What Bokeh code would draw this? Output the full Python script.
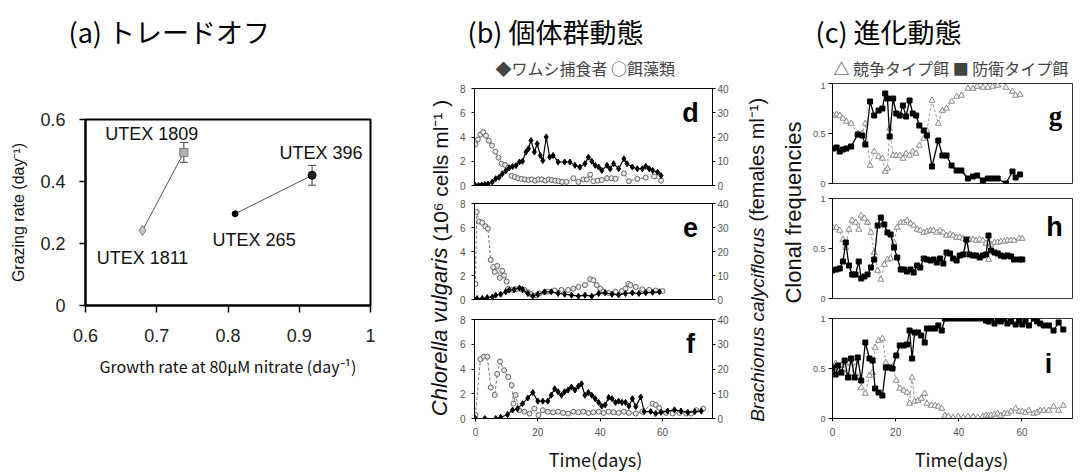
import math
from bokeh.plotting import figure
from bokeh.models import Range1d, LinearAxis, FixedTicker, NumeralTickFormatter, Title
from bokeh.layouts import row, column
from bokeh.embed import file_html
from bokeh.resources import INLINE
from bokeh.core.properties import value

# ---------------- data: (a) trade-off ----------------
strains = ["UTEX 1811", "UTEX 1809", "UTEX 265", "UTEX 396"]
growth_rate = [0.68, 0.738, 0.81, 0.918]
grazing_rate = [0.242, 0.494, 0.296, 0.42]
grazing_err = [0.0, 0.032, 0.0, 0.032]
a_xticks = [0.6, 0.7, 0.8, 0.9, 1.0]
a_yticks = [0.0, 0.2, 0.4, 0.6]

# ---------------- data: (b) population dynamics ----------------
d_alg_t = [0, 0.8, 1.6, 2.5, 3.4, 4.3, 5.3, 6.4, 7.4, 8.4, 9.5, 10.6, 11.6, 12.6, 13.7, 14.8, 15.9, 17.0,
           18.1, 19.1, 20.2, 21.3, 22.4, 23.5, 24.5, 25.6, 26.7, 27.8, 29.2, 31.4, 33.0, 34.6, 35.7, 36.8,
           37.8, 39.2, 40.5, 42.2, 43.6, 44.9, 47.6, 49.2, 51.9, 54.6, 57.3, 59.5]
d_alg = [3.4, 3.8, 4.2, 4.4, 4.1, 3.7, 3.3, 2.8, 2.3, 1.8, 1.7, 1.5, 0.8, 0.7, 0.6, 0.55, 0.5, 0.45,
         0.5, 0.4, 0.5, 0.5, 0.4, 0.5, 0.45, 0.4, 0.35, 0.3, 0.3, 0.6, 0.3, 0.5, 0.5, 0.9,
         0.35, 0.4, 0.45, 0.6, 0.6, 0.55, 1.0, 0.35, 0.55, 0.65, 0.75, 0.4]
d_rot_t = [0, 1, 2, 3, 4, 5.4, 6.5, 7.6, 8.6, 9.7, 10.8, 11.9, 13.0, 14.1, 15.1, 16.2, 17.0, 17.8, 18.9,
           19.8, 20.8, 21.6, 22.7, 23.8, 24.9, 26.5, 28.6, 30.3, 31.9, 33.5, 35.1, 36.2, 37.3, 38.4,
           39.5, 40.5, 42.2, 43.2, 44.3, 45.9, 47.6, 48.6, 50.3, 51.9, 53.5, 54.6, 55.7, 56.8, 58.4, 59.5]
d_rot = [0, 0, 0.2, 0.4, 0.6, 1.4, 2.8, 3.4, 4.8, 6.0, 7.2, 7.8, 8.2, 9.7, 10.0, 13.8, 15.2, 18.6, 13.8,
         17.2, 12.4, 10.3, 20.0, 11.7, 12.4, 9.7, 9.7, 9.7, 8.3, 7.6, 9.0, 11.7, 10.0, 8.3,
         7.6, 6.2, 8.3, 6.9, 9.0, 6.9, 11.0, 9.0, 7.6, 6.9, 6.9, 7.9, 6.9, 6.2, 5.5, 4.1]

e_alg_t = [0, 0.4, 1.2, 2.2, 3.2, 4.0, 4.9, 5.7, 6.2, 7.0, 7.8, 8.6, 9.2, 10.0, 10.5, 11.9, 13.0, 14.6,
           15.7, 16.8, 17.8, 19.5, 20.5, 22.2, 23.2, 25.4, 27.6, 29.7, 31.4, 33.0, 35.1, 36.8, 37.8,
           38.9, 40.0, 41.1, 42.7, 44.9, 47.0, 48.1, 49.0, 49.7, 51.4, 53.5, 55.7, 57.8, 60.0]
e_alg = [1.3, 7.3, 6.5, 6.4, 6.1, 5.9, 3.3, 2.7, 2.3, 2.8, 1.8, 2.4, 2.0, 1.5, 0.9, 0.8, 0.85, 0.85,
         0.8, 0.6, 0.45, 0.35, 0.5, 0.6, 0.65, 0.75, 0.8, 0.8, 0.9, 1.05, 1.2, 1.7, 1.6,
         1.2, 0.9, 0.65, 0.55, 0.65, 0.7, 0.9, 1.3, 1.2, 1.05, 0.85, 0.8, 0.75, 0.7]
e_rot_t = [0.5, 2.2, 3.8, 5.4, 6.5, 8.1, 9.7, 10.8, 12.4, 14.1, 15.1, 16.8, 18.4, 20.0, 22.2, 24.3, 26.5,
           28.6, 30.8, 33.0, 35.1, 37.3, 39.5, 41.6, 43.8, 45.9, 48.1, 50.3, 52.4, 54.6, 56.8, 59.0]
e_rot = [0.4, 0.4, 0.8, 1.0, 1.8, 2.2, 3.2, 3.9, 4.1, 4.8, 4.2, 2.5, 1.4, 2.2, 3.2, 3.2, 2.5,
         2.2, 1.8, 1.4, 1.8, 1.4, 2.5, 2.8, 2.2, 1.9, 2.5, 2.8, 2.5, 2.8, 3.0, 3.2]

f_alg_t = [0, 1.6, 2.7, 3.8, 4.9, 6.2, 7.0, 7.9, 9.2, 10.5, 11.6, 12.2, 12.9, 14.0, 15.7, 17.3, 18.9, 20.2,
           21.6, 23.2, 24.9, 26.5, 28.1, 29.7, 31.4, 33.0, 34.6, 36.2, 37.8, 39.5, 41.1, 42.7, 44.3,
           45.9, 47.6, 49.2, 51.4, 53.5, 56.8, 57.8, 58.9, 61.1, 63.2, 65.4, 67.6, 69.2, 70.8, 73.0]
f_alg = [0.27, 4.8, 5.0, 5.0, 2.5, 1.9, 3.6, 4.6, 3.9, 3.35, 2.7, 1.2, 1.9, 0.67, 0.55, 0.4, 0.8, 0.27,
         0.67, 0.55, 0.5, 0.55, 0.45, 0.4, 0.55, 0.5, 0.55, 0.45, 0.5, 0.55, 0.45, 0.55, 0.5,
         0.45, 0.55, 0.45, 0.4, 0.55, 1.2, 1.1, 0.85, 0.45, 0.4, 0.45, 0.4, 0.4, 0.67, 0.8]
f_rot_t = [0, 3.0, 6.5, 8.1, 10.3, 11.9, 13.5, 15.1, 16.8, 18.4, 20.0, 21.6, 23.2, 24.3, 25.4, 26.5, 27.6,
           28.6, 29.7, 30.8, 31.9, 33.0, 34.0, 35.1, 36.2, 37.3, 38.4, 39.5, 40.5, 41.6, 42.7, 43.8,
           44.9, 45.9, 47.0, 48.1, 49.2, 50.3, 51.4, 53.0, 54.1, 56.2, 57.8, 59.5, 61.6, 63.8, 65.9,
           68.1, 70.3, 72.4]
f_rot = [0, 0, 0, 0.5, 1.6, 3.4, 4.0, 6.0, 8.3, 10.5, 7.0, 7.0, 7.0, 9.4, 12.0, 10.8, 9.4,
         10.8, 11.5, 12.7, 11.5, 13.0, 14.0, 9.4, 10.5, 9.4, 8.0, 6.5, 5.0, 5.5, 8.5, 8.0,
         6.5, 7.0, 6.5, 6.5, 5.0, 8.0, 4.8, 8.7, 2.8, 2.8, 2.0, 2.5, 3.0, 3.5, 3.0,
         2.5, 2.8, 3.0]
pop_xticks = [0, 20, 40, 60]
alg_yticks = [0, 2, 4, 6, 8]
rot_yticks = [0, 10, 20, 30, 40]

# ---------------- data: (c) evolutionary dynamics ----------------
g_t = [0.2, 1.3, 2.3, 3.3, 4.4, 5.9, 8.0, 9.4, 10.4, 11.9, 13.2, 14.6, 15.8, 16.7, 17.4, 18.1, 19.2, 20.2,
       21.3, 22.3, 23.3, 24.4, 25.4, 26.5, 27.5, 28.9, 29.9, 31.5, 33.5, 34.8, 36.1, 37.7, 39.3, 40.8,
       42.9, 44.5, 45.8, 47.6, 49.2, 50.7, 52.3, 54.9, 57.0, 58.0, 59.4]
g_def = [0.35, 0.36, 0.32, 0.34, 0.35, 0.37, 0.49, 0.48, 0.39, 0.82, 0.68, 0.73, 0.75, 0.9, 0.85, 0.47,
         0.85, 0.7, 0.68, 0.78, 0.67, 0.83, 0.7, 0.68, 0.58, 0.53, 0.48, 0.17, 0.43, 0.28, 0.28, 0.18,
         0.13, 0.13, 0.05, 0.07, 0.08, 0.03, 0.05, 0.05, 0.05, 0.0, 0.12, 0.06, 0.09]
g_comp = [0.68, 0.69, 0.68, 0.65, 0.62, 0.6, 0.5, 0.5, 0.6, 0.18, 0.32, 0.27, 0.25, 0.12, 0.15, 0.55,
          0.28, 0.28, 0.28, 0.25, 0.3, 0.28, 0.32, 0.3, 0.38, 0.45, 0.53, 0.83, 0.6, 0.73, 0.75, 0.82,
          0.87, 0.88, 0.95, 0.95, 0.97, 0.96, 0.96, 0.97, 0.98, 0.96, 0.92, 0.88, 0.89]

h_t = [0, 1.25, 2.3, 3.3, 4.2, 5.2, 6.25, 7.3, 8.3, 9.1, 10.1, 11.1, 12.2, 13.2, 14.3, 15.3, 16.4, 17.4,
       18.4, 19.5, 20.5, 21.6, 22.6, 23.6, 24.7, 25.7, 26.8, 27.8, 28.9, 29.9, 31.0, 32.0, 33.0, 34.1,
       35.1, 36.1, 37.2, 38.2, 39.3, 40.3, 41.4, 42.4, 43.4, 44.5, 45.5, 46.6, 47.6, 48.6, 49.4, 50.2,
       51.3, 52.3, 53.3, 54.4, 55.4, 56.5, 57.5, 59.1, 60.1]
h_def = [0.28, 0.29, 0.3, 0.37, 0.56, 0.33, 0.24, 0.24, 0.37, 0.2, 0.22, 0.24, 0.31, 0.39, 0.73, 0.81,
         0.74, 0.66, 0.64, 0.51, 0.41, 0.29, 0.29, 0.27, 0.29, 0.26, 0.33, 0.31, 0.4, 0.39, 0.38, 0.39,
         0.36, 0.4, 0.35, 0.46, 0.45, 0.4, 0.38, 0.43, 0.44, 0.59, 0.44, 0.43, 0.43, 0.41, 0.43, 0.44,
         0.63, 0.48, 0.46, 0.45, 0.43, 0.42, 0.43, 0.42, 0.39, 0.39, 0.39]
h_comp = [0.71, 0.71, 0.68, 0.59, 0.51, 0.69, 0.78, 0.76, 0.69, 0.83, 0.8, 0.76, 0.66, 0.46, 0.28, 0.19,
          0.34, 0.39, 0.4, 0.56, 0.71, 0.76, 0.76, 0.78, 0.75, 0.73, 0.69, 0.68, 0.66, 0.67, 0.68, 0.68,
          0.66, 0.68, 0.66, 0.63, 0.64, 0.63, 0.61, 0.61, 0.6, 0.44, 0.59, 0.59, 0.58, 0.59, 0.58, 0.55,
          0.39, 0.54, 0.56, 0.56, 0.57, 0.57, 0.58, 0.58, 0.58, 0.6, 0.6]

i_t = [0, 1.0, 1.8, 2.8, 3.85, 4.9, 5.9, 7.0, 8.0, 9.1, 10.4, 11.7, 12.7, 13.5, 14.6, 15.8, 16.9, 17.9,
       19.0, 20.2, 21.3, 22.6, 23.6, 24.4, 25.2, 26.0, 27.1, 28.1, 29.2, 29.9, 31.3, 32.5, 33.5, 34.6,
       35.6, 36.7, 38.2, 39.8, 41.4, 42.9, 44.5, 46.0, 47.6, 48.6, 49.4, 50.2, 51.3, 52.3, 53.3, 54.4,
       55.4, 56.5, 58.0, 59.1, 60.1, 61.1, 62.2, 63.75, 64.8, 65.8, 66.9, 68.5, 70.0, 71.6, 73.1]
i_def = [0.51, 0.44, 0.53, 0.46, 0.58, 0.41, 0.6, 0.41, 0.61, 0.38, 0.76, 0.6, 0.58, 0.3, 0.26, 0.23,
         0.51, 0.51, 0.5, 0.63, 0.73, 0.73, 0.74, 0.88, 0.6, 0.86, 0.86, 0.83, 0.76, 0.9, 0.9, 0.9,
         0.93, 0.88, 1.0, 1.0, 1.0, 1.0, 1.0, 1.0, 1.0, 1.0, 1.0, 0.98, 0.97, 1.0, 0.95, 0.98, 0.97,
         1.0, 0.95, 0.97, 0.94, 0.98, 0.94, 0.97, 0.93, 1.0, 0.97, 0.95, 0.93, 0.93, 0.88, 0.96, 0.89]
i_comp = [0.5, 0.55, 0.48, 0.53, 0.45, 0.56, 0.41, 0.56, 0.41, 0.31, 0.25, 0.43, 0.46, 0.71, 0.78, 0.8,
          0.56, 0.51, 0.52, 0.38, 0.3, 0.28, 0.26, 0.15, 0.41, 0.17, 0.18, 0.2, 0.25, 0.15, 0.13, 0.13,
          0.12, 0.1, 0.03, 0.02, 0.01, 0.02, 0.01, 0.02, 0.02, 0.01, 0.02, 0.03, 0.03, 0.03, 0.04, 0.05,
          0.03, 0.05, 0.05, 0.07, 0.1, 0.07, 0.07, 0.06, 0.08, 0.05, 0.06, 0.08, 0.08, 0.08, 0.12, 0.08,
          0.13]
evo_xticks = [0, 20, 40, 60]
evo_yticks = [0, 0.5, 1]

# ---------------- texts ----------------
titles = ["(a) トレードオフ", "(b) 個体群動態", "(c) 進化動態"]
legends = ["◆ワムシ捕食者 ○餌藻類", "△ 競争タイプ餌 ■ 防衛タイプ餌"]
xlabel_a = "Growth rate at 80μM nitrate (day⁻¹)"
ylabel_a = "Grazing rate (day⁻¹)"
time_labels = ["Time(days)", "Time(days)"]
panel_letters = ["d", "e", "f", "g", "h", "i"]
chl_label = ["Chlorella vulgaris", "(10⁶ cells ml⁻¹ )"]
bra_label = ["Brachionus calyciflorus", "(females ml⁻¹)"]
clonal_label = "Clonal frequencies"

JP = "Noto Sans CJK JP"
SANS = "Liberation Sans"
SERIF = "Liberation Serif"

W_TOTAL, H_TOTAL = 1081, 472
ROW_TOP, ROW_BOT = 82, 444     # page y of the panel row
ROW_H = ROW_BOT - ROW_TOP


def base_fig(w, h, bl, br, bt, bb, xr, yr, xaxis=True):
    p = figure(width=w, height=h, x_range=Range1d(*xr), y_range=Range1d(*yr),
               min_border_left=bl, min_border_right=br, min_border_top=bt, min_border_bottom=bb,
               toolbar_location=None, output_backend="svg", title=None,
               x_axis_location="below" if xaxis else None)
    p.grid.visible = False
    p.background_fill_color = "white"
    p.border_fill_color = "white"
    p.outline_line_color = "black"
    return p


def strip(w, h):
    """Text-only figure whose frame fills the whole canvas; data units = pixels."""
    p = figure(width=w, height=h, x_range=Range1d(0, w), y_range=Range1d(0, h),
               min_border_left=0, min_border_right=0, min_border_top=0, min_border_bottom=0,
               toolbar_location=None, output_backend="svg", title=None,
               x_axis_location=None, y_axis_location=None)
    p.outline_line_color = None
    p.grid.visible = False
    p.background_fill_color = "white"
    p.border_fill_color = "white"
    return p


def vtitle_fig(w, h, bl, bt, bb, text, size, style, align, offset=0):
    """Narrow figure carrying one vertical (left-side) title next to a 1px frame."""
    p = figure(width=w, height=h, min_border_left=bl, min_border_right=w - bl - 1,
               min_border_top=bt, min_border_bottom=bb,
               toolbar_location=None, output_backend="svg", title=None,
               x_axis_location=None, y_axis_location=None)
    p.outline_line_color = None
    p.grid.visible = False
    p.background_fill_color = "white"
    p.border_fill_color = "white"
    p.add_layout(Title(text=text, align=align, offset=offset, standoff=0, text_font=SANS,
                       text_font_size=f"{size}px", text_font_style=style,
                       text_color="#111"), "left")
    return p


def style_axis(ax, size, color="#555", tick_out=3, standoff=3):
    ax.axis_line_color = "black"
    ax.major_tick_in = 0
    ax.major_tick_out = tick_out
    ax.minor_tick_line_color = None
    ax.major_label_text_font = SANS
    ax.major_label_text_font_size = size
    ax.major_label_text_color = color
    ax.major_label_standoff = standoff


# ================= top text strip (titles + legends) =================
top = strip(W_TOTAL, ROW_TOP)
top.text(x=[68, 467, 815], y=[ROW_TOP - 31] * 3, text=titles,
         text_font=value(JP), text_font_size="27px", text_align="left",
         text_baseline="middle", text_color="black")
top.text(x=[495, 833], y=[ROW_TOP - 67] * 2, text=legends,
         text_font=value(JP), text_font_size="16px", text_align="left",
         text_baseline="middle", text_color="#444")

# ================= (a) =================
pa = base_fig(412, ROW_H, 85, 42, 119 - ROW_TOP, ROW_H - (119 - ROW_TOP) - 186, (0.6, 1.0), (0.0, 0.6))
pa.outline_line_width = 2
pa.xaxis.ticker = FixedTicker(ticks=a_xticks)
pa.yaxis.ticker = FixedTicker(ticks=a_yticks)
pa.xaxis.formatter = NumeralTickFormatter(format="0.[0]")
pa.yaxis.formatter = NumeralTickFormatter(format="0.[0]")
style_axis(pa.xaxis[0], "18px", "#222", tick_out=7, standoff=16)
style_axis(pa.yaxis[0], "18px", "#222", tick_out=6, standoff=14)
for ax in (pa.xaxis[0], pa.yaxis[0]):
    ax.axis_line_width = 2
    ax.major_tick_line_width = 1.5
    ax.axis_label_text_font_style = "normal"
    ax.axis_label_text_color = "#111"
pa.xaxis.axis_label = xlabel_a
pa.xaxis.axis_label_text_font = JP
pa.xaxis.axis_label_text_font_size = "16px"
pa.xaxis.axis_label_standoff = 9
pa.yaxis.axis_label = ylabel_a
pa.yaxis.axis_label_text_font = SANS
pa.yaxis.axis_label_text_font_size = "16px"
pa.yaxis.axis_label_standoff = 10

pa.line(growth_rate[0:2], grazing_rate[0:2], line_color="#555", line_width=1)
pa.line(growth_rate[2:4], grazing_rate[2:4], line_color="#555", line_width=1)
err_lo = [g - e for g, e in zip(grazing_rate, grazing_err)]
err_hi = [g + e for g, e in zip(grazing_rate, grazing_err)]
has_err = [i for i, e in enumerate(grazing_err) if e > 0]
ex = [growth_rate[i] for i in has_err]
pa.segment(x0=ex, y0=[err_lo[i] for i in has_err], x1=ex, y1=[err_hi[i] for i in has_err],
           line_color="#444", line_width=1)
pa.scatter(ex, [err_lo[i] for i in has_err], marker="dash", size=8, line_color="#444")
pa.scatter(ex, [err_hi[i] for i in has_err], marker="dash", size=8, line_color="#444")
a_markers = ["diamond", "square", "circle", "circle"]
a_sizes = [10, 8, 6, 8]
a_fills = ["#c8c8c8", "#b0b0b0", "black", "#222222"]
a_lines = ["#777777", "#777777", "black", "black"]
for i in range(len(strains)):
    pa.scatter([growth_rate[i]], [grazing_rate[i]], marker=a_markers[i], size=a_sizes[i],
               fill_color=a_fills[i], line_color=a_lines[i])
pa.text(x=growth_rate, y=grazing_rate, text=strains,
        x_offset=[0, -32, 19, 9], y_offset=[28, -18, 26, -22],
        text_align="center", text_baseline="middle", text_font=value(SANS),
        text_font_size="18px", text_color="#111")

# ================= (b) =================
B_XR = (-0.3, 76)


def pop_fig(h, bt, bb, show_x):
    p = base_fig(291, h, 20, 33, bt, bb, B_XR, (0, 8), xaxis=show_x)
    p.extra_y_ranges = {"rot": Range1d(0, 40)}
    p.add_layout(LinearAxis(y_range_name="rot"), "right")
    p.yaxis[0].ticker = FixedTicker(ticks=alg_yticks)
    p.yaxis[1].ticker = FixedTicker(ticks=rot_yticks)
    style_axis(p.yaxis[0], "10px", standoff=6)
    style_axis(p.yaxis[1], "10px", standoff=2)
    if show_x:
        p.xaxis.ticker = FixedTicker(ticks=pop_xticks)
        style_axis(p.xaxis[0], "10px", standoff=6)
    return p


pd_ = pop_fig(112, 6, 9, False)
pe_ = pop_fig(115, 9, 10, False)
pf_ = pop_fig(135, 10, 26, True)

for p, at, av, rt, rv, letter in ((pd_, d_alg_t, d_alg, d_rot_t, d_rot, panel_letters[0]),
                                  (pe_, e_alg_t, e_alg, e_rot_t, e_rot, panel_letters[1]),
                                  (pf_, f_alg_t, f_alg, f_rot_t, f_rot, panel_letters[2])):
    p.line(at, av, line_color="#777", line_dash="3 2", line_width=1)
    p.scatter(at, av, marker="circle", size=5, line_color="#666", fill_color="#e8e8e8",
              line_width=1)
    p.line(rt, rv, y_range_name="rot", line_color="black", line_width=1.2)
    p.scatter(rt, rv, y_range_name="rot", marker="diamond", size=6, line_color="black",
              fill_color="black")
    p.text(x=[76], y=[8], text=[letter], x_offset=[-22], y_offset=[24],
           text_font=value(SANS), text_font_style="bold", text_font_size="27px",
           text_align="center", text_baseline="middle", text_color="black")

# ================= (c) =================
C_XR = (0, 76)


def evo_fig(h, bt, bb, show_x):
    p = base_fig(272, h, 20, 9, bt, bb, C_XR, (0, 1), xaxis=show_x)
    p.outline_line_color = "#333"
    p.yaxis.ticker = FixedTicker(ticks=evo_yticks)
    p.yaxis.formatter = NumeralTickFormatter(format="0.[0]")
    style_axis(p.yaxis[0], "9px", tick_out=4, standoff=3)
    if show_x:
        p.xaxis.ticker = FixedTicker(ticks=evo_xticks)
        style_axis(p.xaxis[0], "10px", standoff=6)
    return p


pg_ = evo_fig(108, 1, 7, False)
ph_ = evo_fig(117, 8, 9, False)
pi_ = evo_fig(137, 11, 26, True)

letter_off = [(-17, 32), (-18, 28), (-24, 45)]
letter_font = [SERIF, SANS, SANS]
for k, (p, t, dv, cv_) in enumerate(((pg_, g_t, g_def, g_comp), (ph_, h_t, h_def, h_comp),
                                     (pi_, i_t, i_def, i_comp))):
    p.line(t, cv_, line_color="#999", line_dash="3 2", line_width=1)
    p.scatter(t, cv_, marker="triangle", size=6, line_color="#888", fill_color="white", line_width=1)
    p.line(t, dv, line_color="black", line_width=1.3)
    p.scatter(t, dv, marker="square", size=5, line_color="black", fill_color="black")
    p.text(x=[76], y=[1], text=[panel_letters[3 + k]], x_offset=[letter_off[k][0]],
           y_offset=[letter_off[k][1]], text_font=value(letter_font[k]), text_font_style="bold",
           text_font_size="27px", text_align="center", text_baseline="middle", text_color="black")

# ================= vertical axis titles =================
# left strip (page x 412..454): split at page y 247
L_SPLIT = 247
stripL = column(
    vtitle_fig(42, L_SPLIT - ROW_TOP, 39, 0, 0, chl_label[1], 21, "normal", "left", offset=6),
    vtitle_fig(42, ROW_BOT - L_SPLIT, 39, 0, 0, chl_label[0], 22, "italic", "right"))
# right strip 1 (page x 745..778): split at page y 227
R_SPLIT = 227
stripR1 = column(
    vtitle_fig(33, R_SPLIT - ROW_TOP, 21, 0, 0, bra_label[1], 20, "normal", "left", offset=6),
    vtitle_fig(33, ROW_BOT - R_SPLIT, 21, 0, 0, bra_label[0], 19, "italic", "right"))
# right strip 2 (page x 778..809): centred on page y 225
stripR2 = vtitle_fig(31, ROW_H, 27, 0, 2 * (ROW_TOP + ROW_H) - 2 * 225 - ROW_H, clonal_label,
                     22, "normal", "center")

# ================= bottom strip (time axis titles) =================
BOT_H = H_TOTAL - ROW_BOT
bot = strip(W_TOTAL, BOT_H)
bot.text(x=[595, 961], y=[H_TOTAL - 458] * 2, text=time_labels,
         text_font=value(JP), text_font_size="18px", text_align="center",
         text_baseline="middle", text_color="#111")

layout = column(top,
                row(pa, stripL, column(pd_, pe_, pf_), stripR1, stripR2, column(pg_, ph_, pi_)),
                bot)

with open("out.html", "w") as fh:
    fh.write(file_html(layout, INLINE))
